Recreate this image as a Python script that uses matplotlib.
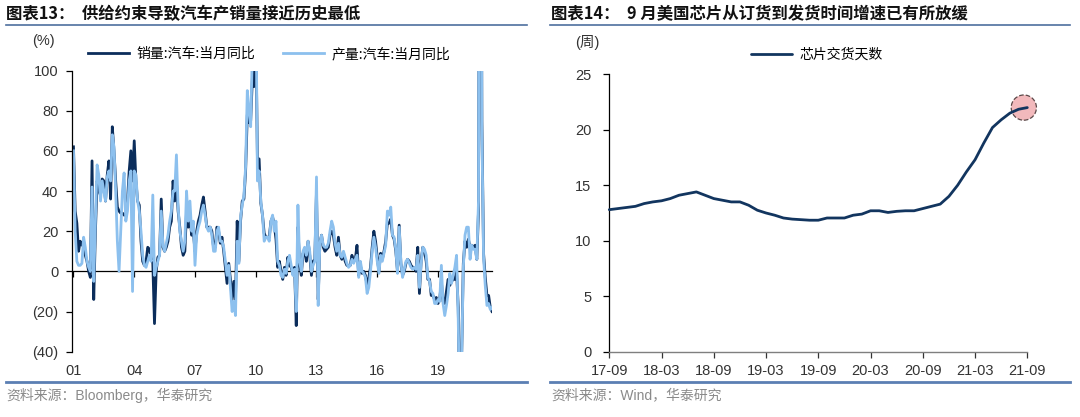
import matplotlib
matplotlib.use("Agg")
import matplotlib.pyplot as plt
from matplotlib.lines import Line2D
from matplotlib.ticker import FuncFormatter
import numpy as np

plt.rcParams['font.family'] = ['Liberation Sans', 'Noto Sans CJK SC', 'DejaVu Sans']

# ---------------- Data: left chart (monthly YoY %, 2001-01 .. 2021-09) -------------
sales_yoy = (
    [62, 30, 24, 10, 15, 13, 15, 8, 5, 0, -3, 55] +          # 2001
    [-14, 20, 45, 40, 38, 46, 45, 35, 48, 55, 36, 72] +      # 2002
    [60, 45, 32, 30, 29, 29, 28, 28, 35, 50, 60, 45] +       # 2003
    [65, 45, 35, 33, 15, 5, 3, 5, 12, 11, 7, 4] +            # 2004
    [-26, 0, 7, 8, 36, 12, 10, 12, 15, 22, 25, 45] +         # 2005
    [35, 45, 30, 22, 12, 8, 10, 30, 22, 28, 18, 20] +        # 2006
    [10, 20, 25, 28, 33, 37, 30, 22, 22, 22, 20, 12] +       # 2007
    [12, 22, 20, 14, 17, 10, 2, -6, 4, -4, -14, -5] +        # 2008
    [-14, 25, 5, 25, 35, 36, 50, 78, 74, 75, 96, 92] +       # 2009
    [124, 56, 56, 34, 28, 19, 17, 17, 17, 25, 27, 23] +      # 2010
    [16, 2, 5, 0, -4, 2, -2, 7, 3, 2, -1, 2] +               # 2011
    [-27, 22, 4, -2, 9, 10, 5, 15, 8, -2, 5, 6] +            # 2012
    [40, -14, 14, 18, 12, 10, 11, 12, 18, 20, 18, 12] +      # 2013
    [8, 17, 8, 6, 9, 5, 3, 3, 3, 8, 5, 6] +                  # 2014
    [13, -2, 3, -1, 0, -2, -7, -3, 2, 12, 20, 15] +          # 2015
    [7, 0, 9, 6, 10, 15, 24, 24, 26, 18, 16, 10] +           # 2016
    [0, 23, 4, -2, 0, 4, 6, 5, 3, 2, 2, 0] +                 # 2017
    [12, -11, 5, 12, 10, 5, -4, -4, -12, -12, -14, -13] +    # 2018
    [-16, -14, -5, -15, -16, -10, -4, -7, -5, -4, -4, 0] +   # 2019
    [-18, -79, -43, 4, 15, 12, 16, 12, 13, 12, 13, 6] +      # 2020
    [30, 365, 75, 9, -3, -12, -12, -18, -20]                 # 2021
)
prod_yoy = (
    [60, 20, 5, 3, 3, 4, 17, 12, 5, 2, 0, 42] +
    [-5, 25, 53, 48, 35, 45, 40, 35, 47, 50, 45, 68] +
    [62, 40, 15, 0, 20, 40, 49, 25, 30, 45, 50, -10] +
    [50, 48, 35, 30, 20, 8, 3, 2, 5, 8, 5, 38] +
    [-2, 2, 5, 8, 30, 13, 10, 14, 18, 25, 30, 40] +
    [40, 58, 32, 20, 15, 10, 15, 40, 25, 35, 20, 25] +
    [3, 18, 22, 25, 30, 33, 28, 22, 20, 22, 18, 10] +
    [10, 20, 22, 15, 15, 12, 5, -2, 3, -8, -20, -15] +
    [-22, 15, 4, 27, 33, 38, 52, 90, 80, 72, 110, 105] +
    [150, 45, 50, 35, 28, 15, 17, 17, 15, 25, 28, 20] +
    [25, 5, 3, -2, -3, 1, -1, 5, 8, 3, -2, 1] +
    [-20, 33, 5, 0, 10, 12, 8, 15, 10, 0, 3, 5] +
    [47, -17, 14, 18, 13, 12, 12, 14, 20, 25, 22, 14] +
    [10, 14, 8, 7, 10, 7, 4, 2, 3, 6, 4, 6] +
    [8, -3, 5, 0, -1, -3, -11, -8, 0, 10, 17, 12] +
    [5, -1, 8, 5, 9, 13, 30, 28, 32, 18, 17, 11] +
    [-1, 22, 5, -3, 1, 5, 6, 4, 2, 1, 2, 1] +
    [8, -8, 4, 12, 11, 8, -3, -5, -10, -11, -16, -16] +
    [-14, -15, 3, -16, -22, -17, -11, -1, -6, -2, 2, 8] +
    [-24, -80, -44, 2, 18, 22, 22, 6, 13, 11, 11, 6] +
    [35, 420, 70, 7, -7, -17, -16, -19, -18]
)
left_xticklabels = ['01', '04', '07', '10', '13', '16', '19']
left_yticks = [100, 80, 60, 40, 20, 0, -20, -40]
sales_label = '销量:汽车:当月同比'
prod_label = '产量:汽车:当月同比'

# ---------------- Data: right chart (weeks, 2017-09 .. 2021-09) ---------------------
chip_weeks = [12.8, 12.9, 13.0, 13.1, 13.35, 13.5, 13.6, 13.8, 14.1, 14.25, 14.4, 14.1,
              13.8, 13.65, 13.5, 13.5, 13.2, 12.75, 12.5, 12.3, 12.05, 11.95, 11.9, 11.85,
              11.85, 12.05, 12.05, 12.05, 12.3, 12.4, 12.7, 12.7, 12.55, 12.65, 12.7, 12.7,
              12.9, 13.1, 13.3, 14.0, 15.0, 16.2, 17.3, 18.8, 20.2, 20.9, 21.5, 21.85, 22.0]
right_xticklabels = ['17-09', '18-03', '18-09', '19-03', '19-09', '20-03', '20-09', '21-03', '21-09']
right_yticks = [0, 5, 10, 15, 20, 25]
chip_label = '芯片交货天数'

DARK = '#0b2d5b'
LIGHT = '#8cc0ee'
RIGHT_LINE = '#12355f'
SEP = '#4e6f9e'
TICKC = '#333333'

W, H = 1080, 417
fig = plt.figure(figsize=(W / 100, H / 100), dpi=100)

def fx(x):
    return x / W

def fy(y):
    return 1 - y / H

# ---------------- Left chart --------------------------------------------------------
axL = fig.add_axes([fx(72.3), fy(351.7), fx(492 - 72.3), (351.7 - 70.5) / H])
m = np.arange(len(sales_yoy))
axL.plot(m, sales_yoy, color=DARK, lw=2.0, solid_joinstyle='round', label=sales_label)
axL.plot(m, prod_yoy, color=LIGHT, lw=2.0, solid_joinstyle='round', label=prod_label)
axL.set_ylim(-40, 100)
axL.set_xlim(-0.7, len(sales_yoy) - 1)
axL.set_yticks(left_yticks)
axL.yaxis.set_major_formatter(FuncFormatter(lambda v, p: f'({abs(int(v))})' if v < 0 else f'{int(v)}'))
year_ticks = [i * 36 for i in range(len(left_xticklabels))]
axL.set_xticks(year_ticks)
axL.set_xticklabels(left_xticklabels)
for s in ['top', 'right', 'bottom']:
    axL.spines[s].set_visible(False)
axL.spines['left'].set_linewidth(0.9)
axL.tick_params(axis='y', direction='out', length=4, width=0.9, pad=6, labelsize=10.5, labelcolor=TICKC)
axL.tick_params(axis='x', length=0, pad=9, labelsize=10.5, labelcolor=TICKC)
sec = axL.secondary_xaxis(40 / 140)
sec.set_xticks(year_ticks)
sec.tick_params(axis='x', direction='out', length=4, width=0.9, labelbottom=False)
sec.spines['bottom'].set_linewidth(0.9)
sec.spines['bottom'].set_color('black')

axL.legend(loc='center left', bbox_to_anchor=(fx(75), fy(54)), bbox_transform=fig.transFigure,
           ncol=2, frameon=False, handlelength=3.0, columnspacing=2.0,
           handletextpad=0.5, prop={'family': ['Noto Sans CJK SC'], 'size': 10})

fig.text(fx(43), fy(41), '(%)', ha='center', va='center', fontsize=10.5, color=TICKC)

# ---------------- Right chart -------------------------------------------------------
axR = fig.add_axes([fx(609.3), fy(351.7), fx(1027.3 - 609.3), (351.7 - 74.3) / H])
mr = np.arange(len(chip_weeks))
axR.plot(mr, chip_weeks, color=RIGHT_LINE, lw=2.0, solid_capstyle='round', label=chip_label,
         zorder=3, clip_on=False)
axR.scatter([mr[-1] - 0.4], [chip_weeks[-1]], s=330, facecolor='#f2b9bc', edgecolor='#5b4848',
            linewidths=0.9, linestyle='--', zorder=2, clip_on=False)
axR.set_ylim(0, 25)
axR.set_xlim(0, len(chip_weeks) - 1)
axR.set_yticks(right_yticks)
axR.set_xticks(list(range(0, len(chip_weeks), 6)))
axR.set_xticklabels(right_xticklabels)
for s in ['top', 'right']:
    axR.spines[s].set_visible(False)
axR.spines['left'].set_linewidth(0.9)
axR.spines['bottom'].set_color('#7f7f7f')
axR.spines['bottom'].set_linewidth(1.0)
axR.tick_params(axis='y', direction='out', length=4, width=0.9, pad=9, labelsize=10.5, labelcolor=TICKC)
axR.tick_params(axis='x', direction='out', length=4, width=0.9, color='#333333', pad=5,
                labelsize=10.5, labelcolor=TICKC)
axR.legend(loc='center left', bbox_to_anchor=(fx(738), fy(55)), bbox_transform=fig.transFigure,
           ncol=1, frameon=False, handlelength=3.0, handletextpad=0.5,
           prop={'family': ['Noto Sans CJK SC'], 'size': 10})
fig.text(fx(587), fy(42), '(周)', ha='center', va='center', fontsize=10.5, color=TICKC,
         family=['Liberation Sans', 'Noto Sans CJK SC'])

# ---------------- Titles, separators, sources ---------------------------------------
fig.text(fx(6), fy(14), '图表13：  供给约束导致汽车产销量接近历史最低', ha='left', va='center',
         fontsize=11.8, fontweight='bold', color='#111111', family=['Noto Sans CJK SC'])
fig.text(fx(551), fy(14), '图表14：  9 月美国芯片从订货到发货时间增速已有所放缓', ha='left', va='center',
         fontsize=11.8, fontweight='bold', color='#111111', family=['Noto Sans CJK SC'])
for x0, x1 in [(6, 527), (550, 1070)]:
    fig.add_artist(Line2D([fx(x0), fx(x1)], [fy(25), fy(25)], color=SEP, lw=1.2))
    fig.add_artist(Line2D([fx(x0), fx(x1)], [fy(382), fy(382)], color='#5b7fb3', lw=2.0))
fig.text(fx(6), fy(395), '资料来源：Bloomberg，华泰研究', ha='left', va='center', fontsize=10,
         color='#8a8a8a', family=['Liberation Sans', 'Noto Sans CJK SC'])
fig.text(fx(551), fy(395), '资料来源：Wind，华泰研究', ha='left', va='center', fontsize=10,
         color='#8a8a8a', family=['Liberation Sans', 'Noto Sans CJK SC'])

fig.savefig('out.png', dpi=100)
